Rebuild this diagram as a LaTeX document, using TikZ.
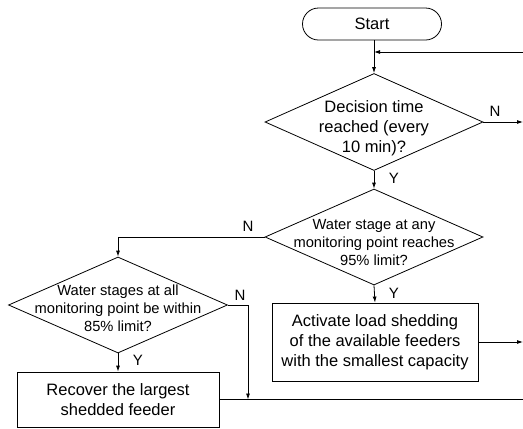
\documentclass[tikz,border=0pt]{standalone}
\usepackage{fontspec}
\setmainfont{Liberation Sans}
\usetikzlibrary{shapes.geometric,arrows.meta}
\begin{document}
\begin{tikzpicture}[x=1pt,y=-1pt,
  line width=0.8pt,
  arr/.style={-{Latex[length=6pt,width=4pt]}},
  dia/.style={draw,shape=diamond,inner sep=0pt,minimum width=218pt,minimum height=97pt},
  boxx/.style={draw,rectangle,inner sep=0pt},
  bigtxt/.style={font=\fontsize{16.5pt}{20pt}\selectfont,align=center},
  smalltxt/.style={font=\fontsize{14.7pt}{18pt}\selectfont,align=center},
  yn/.style={font=\fontsize{15pt}{18pt}\selectfont,inner sep=0pt}]
\useasboundingbox (0,0) rectangle (523,429);
\node[draw,rounded corners=16pt,minimum width=139pt,minimum height=32pt,inner sep=0pt,bigtxt] (start) at (372,24) {Start};
\node[dia] (d1) at (374,122) {};
\node[bigtxt] (t1) at (374,128) {Decision time\\reached (every\\10 min)?};
\node[dia,minimum height=96pt] (d2) at (374,237) {};
\node[smalltxt] (t2) at (374,243) {Water stage at any\\monitoring point reaches\\95\% limit?};
\node[dia,minimum width=219pt,minimum height=96pt] (d3) at (118,305) {};
\node[smalltxt] (t3) at (118,308.5) {Water stages at all\\monitoring point be within\\85\% limit?};
\node[boxx,bigtxt,minimum width=206pt,minimum height=78pt] (act) at (375,342) {Activate load shedding\\of the available feeders\\with the smallest capacity};
\node[boxx,bigtxt,minimum width=202pt,minimum height=55pt] (rec) at (118,399.5) {Recover the largest\\shedded feeder};
\coordinate (in1) at (523,52);
\coordinate (out1) at (523,122);
\coordinate (out2) at (523,342);
\coordinate (out3) at (523,399.5);
\coordinate (nb) at (248,305);
\draw[arr] (start.south -| d1.north) -- (d1.north);
\draw[arr] (in1) -- (d1.north |- in1);
\draw[arr] (d1.east) -- (out1);
\draw[arr] (d1.south) -- (d2.north);
\draw[arr] (d2.west) -| (d3.north);
\draw[arr] (d2.south) -- (act.north);
\draw[arr] (act.east) -- (out2);
\draw[arr] (d3.south) -- (rec.north);
\draw[arr] (d3.east) -- (nb) -- (nb |- rec.east);
\draw (rec.east) -- (out3);
\node[yn] (n1) at (495,111) {N};
\node[yn] (y1) at (394,178) {Y};
\node[yn] (n2) at (248,226) {N};
\node[yn] (y2) at (394,293) {Y};
\node[yn] (n3) at (240,295) {N};
\node[yn] (y3) at (138,360) {Y};
\end{tikzpicture}
\end{document}
